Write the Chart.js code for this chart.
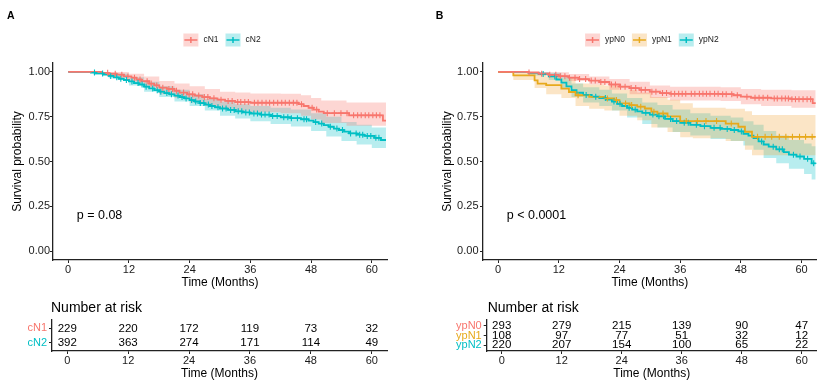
<!DOCTYPE html>
<html>
<head>
<meta charset="utf-8">
<script src="https://cdn.jsdelivr.net/npm/chart.js@4.4.0/dist/chart.umd.min.js"></script>
<style>
  body { margin: 0; background: #fff; }
  #wrap { position: relative; width: 825px; height: 389px; overflow: hidden; background: #fff; }
  canvas { position: absolute; }
</style>
</head>
<body>
<div id="wrap">
  <canvas id="kmA" width="410" height="292" style="left:0;top:0"></canvas>
  <canvas id="kmB" width="410" height="292" style="left:415px;top:0"></canvas>
  <canvas id="riskA" width="410" height="99" style="left:0;top:290px"></canvas>
  <canvas id="riskB" width="410" height="99" style="left:415px;top:290px"></canvas>
</div>
<script>
const FONT = '"Liberation Sans", Arial, Helvetica, sans-serif';
Chart.defaults.font.family = FONT;
Chart.defaults.color = '#1a1a1a';

const RED = '#F8766D', TEAL = '#00BFC4', ORANGE = '#E7A91C';
const RED_FILL = 'rgba(248,118,109,0.3)', TEAL_FILL = 'rgba(0,191,196,0.28)', ORANGE_FILL = 'rgba(240,160,50,0.28)';

const xTicks = [0, 12, 24, 36, 48, 60];
const yTicks = [0, 0.25, 0.5, 0.75, 1];
const riskTimes = [0, 12, 24, 36, 48, 60];

// panel A: cN1
const cN1Time = [0, 6.5, 8, 9.5, 11, 12.5, 13.5, 14.5, 16, 17, 18, 19.5, 21, 22, 23.5, 25, 26.5, 28, 29.5, 31, 33, 36, 45.5, 46.5, 47.5, 48.5, 49.5, 50.5, 55.5, 62.2, 62.8];
const cN1Surv = [1, 0.995, 0.99, 0.985, 0.975, 0.968, 0.958, 0.948, 0.935, 0.925, 0.912, 0.905, 0.895, 0.885, 0.875, 0.868, 0.86, 0.853, 0.845, 0.838, 0.832, 0.828, 0.82, 0.81, 0.8, 0.79, 0.778, 0.77, 0.758, 0.728, 0.728];
const cN1BandT = [0, 6.5, 9, 12, 15, 18, 21, 24, 27, 30, 33, 36, 42, 46, 48, 50, 55, 62.8];
const cN1Lo = [1, 0.985, 0.975, 0.945, 0.915, 0.875, 0.855, 0.83, 0.81, 0.795, 0.785, 0.775, 0.77, 0.755, 0.735, 0.715, 0.7, 0.68];
const cN1Hi = [1, 1, 1, 0.99, 0.975, 0.95, 0.935, 0.92, 0.905, 0.89, 0.885, 0.88, 0.878, 0.87, 0.855, 0.84, 0.83, 0.815];
const cN1Cens = [7.8, 9.3, 10.6, 11.8, 13.1, 14.2, 15.6, 16.4, 17.5, 18.7, 19.9, 20.6, 21.4, 22.8, 23.9, 24.6, 25.8, 26.9, 27.6, 28.8, 30.2, 31.6, 32.4, 33.5, 34.1, 34.9, 35.6, 36.8, 37.5, 38.3, 39.1, 39.8, 40.6, 41.4, 42.2, 42.9, 43.7, 44.5, 45.2, 46.1, 48.2, 49.1, 51.2, 52.6, 53.9, 55.1, 56.4, 57.2, 57.9, 58.7, 59.4, 60.2, 60.9, 61.6];

// panel A: cN2
const cN2Time = [0, 4.5, 5.5, 7, 8, 9, 10, 11, 12, 13, 14, 15, 16, 17, 18, 19, 20, 21, 22, 23, 24, 25, 26, 27, 28, 29, 30, 31.5, 33, 34.5, 36, 38, 40, 42, 44, 46, 47.5, 48.5, 49.5, 50.5, 51.5, 52.5, 53.5, 54.5, 55.5, 57, 58.5, 60.5, 61.8, 62.8];
const cN2Surv = [1, 0.997, 0.992, 0.985, 0.978, 0.97, 0.962, 0.955, 0.947, 0.938, 0.93, 0.918, 0.908, 0.898, 0.89, 0.882, 0.875, 0.868, 0.86, 0.852, 0.843, 0.835, 0.826, 0.818, 0.81, 0.803, 0.796, 0.788, 0.78, 0.774, 0.768, 0.762, 0.754, 0.747, 0.742, 0.736, 0.728, 0.72, 0.712, 0.703, 0.694, 0.684, 0.676, 0.667, 0.657, 0.65, 0.643, 0.632, 0.62, 0.62];
const cN2BandT = [0, 5, 8, 12, 15, 18, 21, 24, 27, 30, 33, 36, 40, 44, 48, 51, 54, 57, 60, 62.8];
const cN2Lo = [1, 0.985, 0.965, 0.925, 0.89, 0.86, 0.835, 0.81, 0.785, 0.755, 0.74, 0.725, 0.71, 0.695, 0.67, 0.64, 0.615, 0.595, 0.575, 0.555];
const cN2Hi = [1, 1, 0.99, 0.97, 0.945, 0.92, 0.9, 0.875, 0.85, 0.835, 0.82, 0.81, 0.8, 0.79, 0.77, 0.75, 0.72, 0.705, 0.69, 0.685];
const cN2Cens = [5.2, 6.8, 8.4, 9.6, 10.4, 11.5, 12.6, 13.8, 14.6, 15.4, 16.7, 17.6, 18.3, 19.5, 20.4, 21.7, 22.5, 23.3, 24.4, 25.2, 26.1, 26.8, 27.7, 28.4, 29.6, 30.5, 31.2, 32.1, 32.8, 33.6, 34.3, 35.1, 35.8, 36.7, 37.4, 38.2, 38.9, 39.7, 40.4, 41.3, 42.6, 43.4, 44.1, 45.3, 46.6, 47.1, 48.9, 50.1, 51.8, 53.1, 54.2, 55.8, 56.9, 57.6, 58.2, 59.1, 59.8, 60.8, 61.4];

// panel B: ypN0
const ypN0Time = [0, 6, 8, 10, 12, 14, 16, 18, 20, 22, 24, 26, 28, 30, 32, 34, 44, 46.5, 48, 50, 54, 58, 62.2, 62.8];
const ypN0Surv = [1, 0.997, 0.99, 0.984, 0.976, 0.968, 0.96, 0.952, 0.944, 0.93, 0.918, 0.91, 0.9, 0.89, 0.882, 0.878, 0.876, 0.87, 0.862, 0.856, 0.852, 0.848, 0.826, 0.826];
const ypN0BandT = [0, 6, 10, 14, 18, 22, 26, 30, 34, 44, 48, 52, 58, 62.8];
const ypN0Lo = [1, 0.99, 0.97, 0.95, 0.93, 0.9, 0.875, 0.855, 0.84, 0.838, 0.82, 0.81, 0.8, 0.78];
const ypN0Hi = [1, 1, 0.998, 0.988, 0.975, 0.96, 0.945, 0.925, 0.918, 0.915, 0.905, 0.9, 0.898, 0.89];
const ypN0Cens = [6.1, 8.6, 10.2, 11.4, 12.3, 13.2, 14.1, 15.2, 16.1, 17.3, 18.4, 19.2, 20.3, 21.1, 22.4, 23.2, 24.2, 25.1, 26.3, 27.2, 28.3, 29.1, 30.4, 31.2, 32.5, 33.3, 34.2, 34.9, 35.7, 36.4, 37.1, 38.2, 38.9, 39.8, 40.5, 41.2, 41.9, 42.8, 43.5, 44.4, 45.1, 46.2, 47.3, 49.2, 50.8, 51.6, 52.4, 53.3, 54.6, 55.2, 56.1, 56.8, 57.4, 58.1, 58.8, 59.5, 60.3, 61.1, 61.8];

// panel B: ypN1
const ypN1Time = [0, 3, 7.2, 7.8, 9.5, 12.5, 14, 15.3, 18, 21, 23, 24, 26, 27.5, 29, 30.3, 31.5, 33.5, 36, 45, 47.5, 48.8, 50.2, 62.8];
const ypN1Surv = [1, 0.981, 0.953, 0.935, 0.926, 0.907, 0.888, 0.87, 0.861, 0.852, 0.843, 0.824, 0.815, 0.806, 0.796, 0.778, 0.768, 0.752, 0.726, 0.712, 0.694, 0.666, 0.638, 0.638];
const ypN1BandT = [0, 3, 7.2, 9.5, 12.5, 15.3, 18, 21, 24, 27.5, 30.3, 33.5, 36, 38.5, 45, 48.8, 50.2, 62.8];
const ypN1Lo = [1, 0.955, 0.91, 0.875, 0.855, 0.81, 0.795, 0.785, 0.755, 0.73, 0.69, 0.665, 0.635, 0.63, 0.615, 0.565, 0.535, 0.535];
const ypN1Hi = [1, 1, 0.99, 0.975, 0.965, 0.935, 0.93, 0.925, 0.9, 0.885, 0.86, 0.845, 0.825, 0.8, 0.795, 0.78, 0.76, 0.76];
const ypN1Cens = [15.8, 21.6, 23.4, 25.2, 26.4, 28.2, 30.8, 32.6, 37.2, 39.4, 41.1, 43.2, 46.1, 51.3, 52.8, 54.1, 55.6, 56.9, 58.2, 59.6, 60.8, 62.1];

// panel B: ypN2
const ypN2Time = [0, 6, 8, 10, 11.5, 12.5, 13.5, 14.5, 15.5, 16.8, 18.5, 20, 21.5, 22.5, 23.5, 24.5, 25.5, 26.5, 27.5, 28.5, 30, 31.5, 33, 34.5, 36, 38, 40, 42, 44, 46, 47.5, 48.5, 49.5, 50.5, 51.5, 52.5, 53.5, 55, 56.5, 57.5, 59, 60.5, 62, 62.8];
const ypN2Surv = [1, 0.995, 0.988, 0.975, 0.958, 0.94, 0.92, 0.898, 0.884, 0.872, 0.862, 0.854, 0.845, 0.835, 0.822, 0.81, 0.8, 0.79, 0.78, 0.772, 0.762, 0.752, 0.738, 0.726, 0.716, 0.705, 0.697, 0.688, 0.682, 0.676, 0.668, 0.655, 0.645, 0.63, 0.612, 0.595, 0.583, 0.568, 0.552, 0.538, 0.528, 0.515, 0.49, 0.49];
const ypN2BandT = [0, 6, 10, 12.5, 14.5, 16.8, 20, 22.5, 25.5, 28.5, 31.5, 34.5, 38, 42, 46, 48.5, 50.5, 52.5, 55, 57.5, 60.5, 62, 62.8];
const ypN2Lo = [1, 0.98, 0.955, 0.91, 0.86, 0.83, 0.81, 0.785, 0.745, 0.71, 0.69, 0.665, 0.645, 0.625, 0.615, 0.59, 0.565, 0.52, 0.49, 0.46, 0.43, 0.4, 0.4];
const ypN2Hi = [1, 1, 0.995, 0.97, 0.935, 0.915, 0.9, 0.88, 0.855, 0.83, 0.815, 0.79, 0.77, 0.755, 0.745, 0.725, 0.705, 0.67, 0.645, 0.62, 0.6, 0.585, 0.585];
const ypN2Cens = [8.9, 11.2, 17.4, 19.3, 21.2, 22.9, 24.1, 25.9, 27.1, 29.2, 30.6, 31.8, 32.7, 34.1, 35.3, 36.8, 37.6, 39.2, 40.8, 42.7, 43.9, 45.3, 46.7, 48.1, 52.1, 54.4, 55.6, 56.2, 58.4, 59.7, 61.2, 62.4];

// number at risk
const cN1Risk = [229, 220, 172, 119, 73, 32];
const cN2Risk = [392, 363, 274, 171, 114, 49];
const ypN0Risk = [293, 279, 215, 139, 90, 47];
const ypN1Risk = [108, 97, 77, 51, 32, 12];
const ypN2Risk = [220, 207, 154, 100, 65, 22];

function kmDatasets(times, surv, cens, bandT, lo, hi, color, fill) {
  const survAt = t => {
    let s = surv[0];
    for (let i = 0; i < times.length; i++) if (times[i] <= t) s = surv[i];
    return s;
  };
  const none = 'rgba(0,0,0,0)';
  return [
    { data: bandT.map((t, i) => ({ x: t, y: hi[i] })), showLine: true, stepped: true, borderColor: none, borderWidth: 0, pointRadius: 0, fill: '+1', backgroundColor: fill, order: 3 },
    { data: bandT.map((t, i) => ({ x: t, y: lo[i] })), showLine: true, stepped: true, borderColor: none, borderWidth: 0, pointRadius: 0, fill: false, order: 3 },
    { data: times.map((t, i) => ({ x: t, y: surv[i] })), showLine: true, stepped: true, borderColor: color, borderWidth: 1.8, pointRadius: 0, fill: false, order: 1 },
    { data: cens.map(c => ({ x: c, y: survAt(c) })), showLine: false, pointStyle: 'cross', pointRadius: 3, borderColor: color, borderWidth: 1.1, order: 0 }
  ];
}

const kmExtras = {
  id: 'kmExtras',
  afterDraw(chart, args, o) {
    const { ctx, chartArea, scales } = chart;
    ctx.save();
    if (o.panel) {
      ctx.font = 'bold 10.5px ' + FONT;
      ctx.fillStyle = '#000';
      ctx.textAlign = 'left';
      ctx.textBaseline = 'alphabetic';
      ctx.fillText(o.panel, o.panelX, 18.5);
    }
    if (o.legend) {
      ctx.font = '8.5px ' + FONT;
      const keyW = 15, keyH = 13, gap = 5, sep = 7, cy = 40;
      const widths = o.legend.map(l => ctx.measureText(l.label).width);
      const total = widths.reduce((a, w) => a + keyW + gap + w, 0) + sep * (o.legend.length - 1);
      let x = (chartArea.left + chartArea.right) / 2 + 2 - total / 2;
      o.legend.forEach((l, i) => {
        ctx.fillStyle = l.fill;
        ctx.fillRect(x, cy - keyH / 2, keyW, keyH);
        ctx.strokeStyle = l.color;
        ctx.lineWidth = 1.5;
        ctx.beginPath();
        ctx.moveTo(x + 1, cy); ctx.lineTo(x + keyW - 1, cy);
        ctx.moveTo(x + keyW / 2, cy - 3); ctx.lineTo(x + keyW / 2, cy + 3);
        ctx.stroke();
        ctx.fillStyle = '#1a1a1a';
        ctx.textAlign = 'left';
        ctx.textBaseline = 'middle';
        ctx.fillText(l.label, x + keyW + gap, cy);
        x += keyW + gap + widths[i] + sep;
      });
    }
    if (o.pText) {
      ctx.font = '12.5px ' + FONT;
      ctx.fillStyle = '#000';
      ctx.textAlign = 'left';
      ctx.textBaseline = 'middle';
      ctx.fillText(o.pText, scales.x.getPixelForValue(o.pAt[0]), scales.y.getPixelForValue(o.pAt[1]));
    }
    if (o.risk) {
      const n = o.risk.counts.length;
      ctx.font = '11.5px ' + FONT;
      ctx.fillStyle = '#000';
      ctx.textAlign = 'center';
      ctx.textBaseline = 'middle';
      o.risk.counts.forEach((row, g) => row.forEach((c, k) => {
        ctx.fillText(String(c), scales.x.getPixelForValue(riskTimes[k]), scales.y.getPixelForValue(n - g));
      }));
      ctx.font = '14px ' + FONT;
      ctx.textAlign = 'left';
      ctx.textBaseline = 'alphabetic';
      ctx.fillText('Number at risk', chartArea.left + o.risk.titleDx, 21.7);
    }
    ctx.restore();
  }
};

function xScale(height, titlePad) {
  return {
    type: 'linear', min: -3, max: 63,
    afterBuildTicks: s => { s.ticks = xTicks.map(v => ({ value: v })); },
    afterFit: s => { s.height = height; },
    grid: { drawOnChartArea: false, drawTicks: true, tickLength: 3, color: '#222', lineWidth: 1 },
    border: { display: true, color: '#222', width: 1.3 },
    ticks: { padding: 0, color: '#1a1a1a', font: { size: 11 }, maxRotation: 0, autoSkip: false },
    title: { display: true, text: 'Time (Months)', color: '#000', font: { size: 12 }, padding: { top: 0, bottom: titlePad } }
  };
}

function kmChart(id, datasets, opts) {
  return new Chart(document.getElementById(id), {
    type: 'scatter',
    data: { datasets },
    options: {
      responsive: false, animation: false, events: [],
      layout: { padding: { top: 63, right: opts.padRight, left: 0, bottom: 0 } },
      plugins: {
        legend: { display: false }, tooltip: { enabled: false },
        kmExtras: { panel: opts.panel, panelX: opts.panelX, legend: opts.legend, pText: opts.pText, pAt: [1.7, 0.2] }
      },
      scales: {
        x: xScale(32, 1.8),
        y: {
          type: 'linear', min: -0.05, max: 1.05,
          afterBuildTicks: s => { s.ticks = yTicks.map(v => ({ value: v })); },
          afterFit: s => { s.width = opts.yWidth; },
          grid: { drawOnChartArea: false, drawTicks: true, tickLength: 3, color: '#222', lineWidth: 1 },
          border: { display: true, color: '#222', width: 1.3 },
          ticks: { padding: opts.tickPad, color: '#1a1a1a', font: { size: 11 }, autoSkip: false, callback: v => v.toFixed(2) },
          title: { display: true, text: 'Survival probability', color: '#000', font: { size: 12 }, padding: { top: opts.titlePad, bottom: 0 } }
        }
      }
    },
    plugins: [kmExtras]
  });
}

function riskChart(id, names, colors, counts, opts) {
  const n = names.length;
  return new Chart(document.getElementById(id), {
    type: 'scatter',
    data: { datasets: [] },
    options: {
      responsive: false, animation: false, events: [],
      layout: { padding: { top: 30, right: opts.padRight, left: 0, bottom: 0 } },
      plugins: {
        legend: { display: false }, tooltip: { enabled: false },
        kmExtras: { risk: { counts, titleDx: opts.titleDx } }
      },
      scales: {
        x: xScale(38, 7.8),
        y: {
          type: 'linear', min: 0.4, max: n + 0.6,
          afterBuildTicks: s => { s.ticks = names.map((_, g) => ({ value: n - g })); },
          afterFit: s => { s.width = opts.yWidth; },
          grid: { drawOnChartArea: false, drawTicks: true, tickLength: 3, color: '#222', lineWidth: 1 },
          border: { display: true, color: '#222', width: 1.3 },
          ticks: { padding: 2, font: { size: 11 }, autoSkip: false, callback: v => names[n - v], color: c => colors[n - c.tick.value] }
        }
      }
    },
    plugins: [kmExtras]
  });
}

kmChart('kmA', [
  ...kmDatasets(cN1Time, cN1Surv, cN1Cens, cN1BandT, cN1Lo, cN1Hi, RED, RED_FILL),
  ...kmDatasets(cN2Time, cN2Surv, cN2Cens, cN2BandT, cN2Lo, cN2Hi, TEAL, TEAL_FILL)
], {
  panel: 'A', panelX: 7, padRight: 23, yWidth: 53, tickPad: 0, titlePad: 10.8, pText: 'p = 0.08',
  legend: [{ label: 'cN1', color: RED, fill: RED_FILL }, { label: 'cN2', color: TEAL, fill: TEAL_FILL }]
});

kmChart('kmB', [
  ...kmDatasets(ypN0Time, ypN0Surv, ypN0Cens, ypN0BandT, ypN0Lo, ypN0Hi, RED, RED_FILL),
  ...kmDatasets(ypN1Time, ypN1Surv, ypN1Cens, ypN1BandT, ypN1Lo, ypN1Hi, ORANGE, ORANGE_FILL),
  ...kmDatasets(ypN2Time, ypN2Surv, ypN2Cens, ypN2BandT, ypN2Lo, ypN2Hi, TEAL, TEAL_FILL)
], {
  panel: 'B', panelX: 20.7, padRight: 8.3, yWidth: 68, tickPad: 1.5, titlePad: 25.8, pText: 'p < 0.0001',
  legend: [{ label: 'ypN0', color: RED, fill: RED_FILL }, { label: 'ypN1', color: ORANGE, fill: ORANGE_FILL }, { label: 'ypN2', color: TEAL, fill: TEAL_FILL }]
});

riskChart('riskA', ['cN1', 'cN2'], [RED, TEAL], [cN1Risk, cN2Risk], { padRight: 23, yWidth: 52, titleDx: -1 });
riskChart('riskB', ['ypN0', 'ypN1', 'ypN2'], [RED, ORANGE, TEAL], [ypN0Risk, ypN1Risk, ypN2Risk], { padRight: 8.3, yWidth: 71.7, titleDx: 1 });
</script>
</body>
</html>
